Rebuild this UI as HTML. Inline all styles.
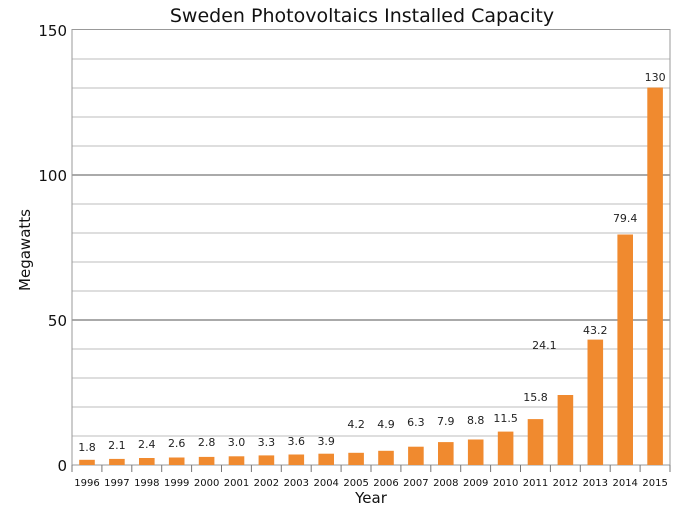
<!DOCTYPE html>
<html><head><meta charset="utf-8"><style>body{margin:0;background:#fff}svg{display:block}</style></head>
<body>
<svg width="683" height="512" xmlns="http://www.w3.org/2000/svg" font-family="DejaVu Sans, Liberation Sans, sans-serif">
<rect width="683" height="512" fill="#fff"/>
<text x="362" y="22" font-size="19" text-anchor="middle" fill="#111">Sweden Photovoltaics Installed Capacity</text>
<g stroke="#d4d4d4" stroke-width="1.5">
<line x1="72" x2="670" y1="436" y2="436"/><line x1="72" x2="670" y1="407" y2="407"/><line x1="72" x2="670" y1="378" y2="378"/><line x1="72" x2="670" y1="349" y2="349"/>
<line x1="72" x2="670" y1="291" y2="291"/><line x1="72" x2="670" y1="262" y2="262"/><line x1="72" x2="670" y1="233" y2="233"/><line x1="72" x2="670" y1="204" y2="204"/>
<line x1="72" x2="670" y1="146" y2="146"/><line x1="72" x2="670" y1="117" y2="117"/><line x1="72" x2="670" y1="88" y2="88"/><line x1="72" x2="670" y1="59" y2="59"/>
</g>
<g stroke="#777" stroke-width="1.2"><line x1="72" x2="670" y1="320" y2="320"/><line x1="72" x2="670" y1="175" y2="175"/></g>
<rect x="72" y="29.5" width="598" height="435.5" fill="none" stroke="#999" stroke-width="1"/>
<g font-size="15" fill="#111" text-anchor="end"><text x="67" y="471">0</text><text x="67" y="326">50</text><text x="67" y="181">100</text><text x="67" y="36">150</text></g>
<text transform="translate(30,250) rotate(-90)" font-size="15" text-anchor="middle" fill="#111">Megawatts</text>
<text x="371" y="503" font-size="15" text-anchor="middle" fill="#111">Year</text>
<g fill="#f08a2f">
<rect x="79.2" y="459.8" width="15.6" height="5.2"/>
<rect x="109.1" y="458.9" width="15.6" height="6.1"/>
<rect x="139" y="458" width="15.6" height="7"/>
<rect x="168.9" y="457.5" width="15.6" height="7.5"/>
<rect x="198.8" y="456.9" width="15.6" height="8.1"/>
<rect x="228.7" y="456.3" width="15.6" height="8.7"/>
<rect x="258.6" y="455.4" width="15.6" height="9.6"/>
<rect x="288.5" y="454.5" width="15.6" height="10.5"/>
<rect x="318.4" y="453.7" width="15.6" height="11.3"/>
<rect x="348.3" y="452.8" width="15.6" height="12.2"/>
<rect x="378.2" y="450.8" width="15.6" height="14.2"/>
<rect x="408.1" y="446.7" width="15.6" height="18.3"/>
<rect x="438" y="442.1" width="15.6" height="22.9"/>
<rect x="467.9" y="439.5" width="15.6" height="25.5"/>
<rect x="497.8" y="431.6" width="15.6" height="33.4"/>
<rect x="527.7" y="419.1" width="15.6" height="45.9"/>
<rect x="557.6" y="395" width="15.6" height="70"/>
<rect x="587.5" y="339.6" width="15.6" height="125.4"/>
<rect x="617.4" y="234.5" width="15.6" height="230.5"/>
<rect x="647.3" y="87.6" width="15.6" height="377.4"/>
</g>
<g font-size="11" fill="#222" text-anchor="middle">
<text x="87" y="451">1.8</text><text x="116.9" y="449">2.1</text><text x="146.8" y="448">2.4</text><text x="176.7" y="447">2.6</text><text x="206.6" y="446">2.8</text><text x="236.5" y="446">3.0</text><text x="266.4" y="446">3.3</text><text x="296.3" y="445">3.6</text><text x="326.2" y="445">3.9</text><text x="356.1" y="428">4.2</text><text x="386" y="428">4.9</text><text x="415.9" y="426">6.3</text><text x="445.8" y="425">7.9</text><text x="475.7" y="424">8.8</text><text x="505.6" y="422">11.5</text><text x="535.5" y="401">15.8</text><text x="544.4" y="349">24.1</text><text x="595.3" y="334">43.2</text><text x="625.2" y="222">79.4</text><text x="655.1" y="81">130</text>
</g>
<g font-size="10" fill="#111" text-anchor="middle">
<text x="87" y="486">1996</text><text x="116.9" y="486">1997</text><text x="146.8" y="486">1998</text><text x="176.7" y="486">1999</text><text x="206.6" y="486">2000</text><text x="236.5" y="486">2001</text><text x="266.4" y="486">2002</text><text x="296.3" y="486">2003</text><text x="326.2" y="486">2004</text><text x="356.1" y="486">2005</text><text x="386" y="486">2006</text><text x="415.9" y="486">2007</text><text x="445.8" y="486">2008</text><text x="475.7" y="486">2009</text><text x="505.6" y="486">2010</text><text x="535.5" y="486">2011</text><text x="565.4" y="486">2012</text><text x="595.3" y="486">2013</text><text x="625.2" y="486">2014</text><text x="655.1" y="486">2015</text>
</g>
<g stroke="#777">
<line x1="72" x2="72" y1="465" y2="472"/><line x1="101.9" x2="101.9" y1="465" y2="472"/><line x1="131.8" x2="131.8" y1="465" y2="472"/><line x1="161.7" x2="161.7" y1="465" y2="472"/><line x1="191.6" x2="191.6" y1="465" y2="472"/><line x1="221.5" x2="221.5" y1="465" y2="472"/><line x1="251.4" x2="251.4" y1="465" y2="472"/><line x1="281.3" x2="281.3" y1="465" y2="472"/><line x1="311.2" x2="311.2" y1="465" y2="472"/><line x1="341.1" x2="341.1" y1="465" y2="472"/><line x1="371" x2="371" y1="465" y2="472"/><line x1="400.9" x2="400.9" y1="465" y2="472"/><line x1="430.8" x2="430.8" y1="465" y2="472"/><line x1="460.7" x2="460.7" y1="465" y2="472"/><line x1="490.6" x2="490.6" y1="465" y2="472"/><line x1="520.5" x2="520.5" y1="465" y2="472"/><line x1="550.4" x2="550.4" y1="465" y2="472"/><line x1="580.3" x2="580.3" y1="465" y2="472"/><line x1="610.2" x2="610.2" y1="465" y2="472"/><line x1="640.1" x2="640.1" y1="465" y2="472"/><line x1="670" x2="670" y1="465" y2="472"/>
</g>
</svg>
</body></html>
